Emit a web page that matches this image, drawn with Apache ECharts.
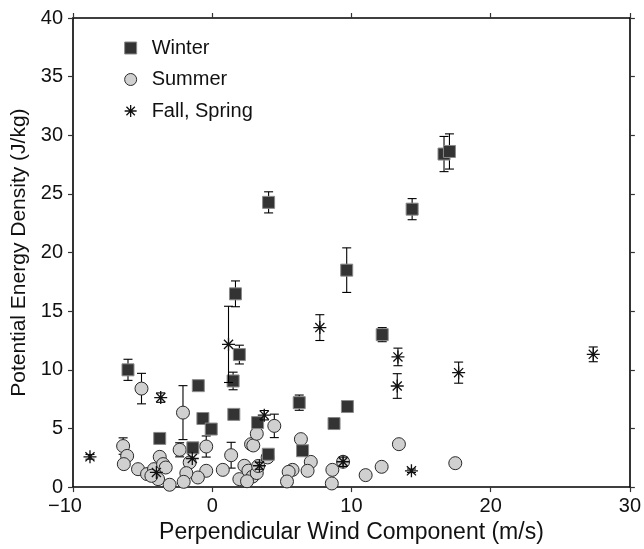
<!DOCTYPE html>
<html><head><meta charset="utf-8">
<script src="https://cdn.jsdelivr.net/npm/echarts@6/dist/echarts.min.js"></script>
<style>html,body{margin:0;padding:0;background:#fff}#c{width:644px;height:549px}</style>
</head><body><div id="c"></div>
<script>
// [x (m/s), y (J/kg), error]
const winter = [
  [-6.05, 10.0, 0.9], [-3.77, 4.15, 0], [-1.0, 8.65, 0.3], [-0.67, 5.85, 0], [-0.07, 4.95, 0],
  [-1.39, 3.35, 0], [1.95, 11.3, 0.8], [1.5, 9.05, 0.75], [1.55, 6.2, 0.3], [3.26, 5.5, 0],
  [4.03, 2.8, 0.4], [6.25, 7.2, 0.65], [6.49, 3.1, 0], [8.75, 5.42, 0.5], [9.71, 6.87, 0.15],
  [12.21, 13.0, 0.6], [4.05, 24.28, 0.9], [1.67, 16.48, 1.1], [9.66, 18.5, 1.9],
  [14.36, 23.7, 0.9], [16.65, 28.4, 1.5], [17.04, 28.62, 1.5]
];
const summer = [
  [-5.08, 8.4, 1.3], [-6.4, 3.5, 0.7], [-6.11, 2.66, 0], [-6.35, 1.96, 0], [-5.33, 1.53, 0],
  [-4.68, 1.11, 0], [-4.18, 1.53, 0], [-3.77, 2.58, 0], [-3.53, 1.96, 0], [-3.34, 1.67, 0],
  [-3.89, 0.68, 0], [-3.06, 0.2, 0], [-4.37, 0.96, 0], [-2.1, 6.35, 2.3], [-2.34, 3.18, 0.6],
  [-0.43, 3.46, 0.9], [-0.43, 1.39, 0], [-1.03, 0.82, 0], [-1.62, 2.1, 0], [-1.86, 1.19, 0],
  [-2.05, 0.45, 0], [0.76, 1.47, 0], [1.36, 2.72, 1.1], [1.95, 0.68, 0], [2.31, 1.82, 0],
  [2.6, 1.4, 0], [2.9, 0.9, 0], [2.5, 0.5, 0], [3.2, 1.2, 0], [3.3, 1.8, 0],
  [2.79, 3.66, 0], [2.95, 3.55, 0], [3.2, 4.55, 0.4], [4.46, 5.22, 1.0], [3.98, 2.53, 0],
  [6.37, 4.09, 0], [7.08, 2.15, 0], [6.85, 1.39, 0], [5.77, 1.47, 0], [5.49, 1.3, 0],
  [5.37, 0.48, 0], [8.63, 1.47, 0], [8.59, 0.31, 0], [9.4, 2.16, 0], [11.02, 1.02, 0],
  [12.17, 1.73, 0], [13.41, 3.66, 0], [17.46, 2.04, 0]
];
const fallSpring = [
  [-8.78, 2.58, 0.2], [-3.7, 7.63, 0.4], [1.17, 12.17, 3.25], [7.73, 13.6, 1.1],
  [13.34, 11.1, 0.75], [13.29, 8.62, 1.05], [17.7, 9.76, 0.9], [27.37, 11.32, 0.63],
  [14.31, 1.39, 0.15], [3.74, 6.13, 0.4], [9.4, 2.16, 0.4], [3.39, 1.82, 0.3],
  [-4.01, 1.25, 0], [-1.43, 2.44, 0]
];
const xTicks = [-10, 0, 10, 20, 30];
const yTicks = [0, 5, 10, 15, 20, 25, 30, 35, 40];
const seriesNames = ['Winter', 'Summer', 'Fall, Spring'];

const FONT = 'Liberation Sans, Arial, Helvetica, sans-serif';
const starPath = 'path://M0,-10L0,10M-10,0L10,0M-7,-7L7,7M-7,7L7,-7';

const styles = {
  'Winter': { color: '#333333', borderColor: '#8a8a8a', borderWidth: 1, opacity: 1 },
  'Summer': { color: '#d0d0d0', borderColor: '#2a2a2a', borderWidth: 1, opacity: 1 },
  'Fall, Spring': { color: '#000', borderColor: '#111', borderWidth: 1.3, opacity: 1 }
};

function errBars(name, data, z) {
  return {
    type: 'custom', name: name + ' error', z: z, silent: true,
    data: data,
    renderItem: function (params, api) {
      const x = api.value(0), y = api.value(1), e = api.value(2);
      if (!e) return null;
      const top = api.coord([x, y + e]);
      const bot = api.coord([x, y - e]);
      const w = 4.5;
      const st = { stroke: '#000', lineWidth: 1.1 };
      return { type: 'group', children: [
        { type: 'line', shape: { x1: top[0], y1: top[1], x2: bot[0], y2: bot[1] }, style: st },
        { type: 'line', shape: { x1: top[0] - w, y1: top[1], x2: top[0] + w, y2: top[1] }, style: st },
        { type: 'line', shape: { x1: bot[0] - w, y1: bot[1], x2: bot[0] + w, y2: bot[1] }, style: st }
      ]};
    },
    encode: { x: 0, y: 1 }
  };
}

const chart = echarts.init(document.getElementById('c'), null, { renderer: 'canvas' });
function axisCommon() {
  return {
    axisLine: { onZero: false, lineStyle: { color: '#000', width: 1.6 } },
    axisTick: { length: 5, lineStyle: { color: '#333', width: 1.2 } },
    splitLine: { show: false }
  };
}
chart.setOption({
  animation: false,
  backgroundColor: '#fff',
  textStyle: { fontFamily: FONT },
  grid: { left: 73, right: 12, top: 18, bottom: 61 },
  legend: {
    orient: 'vertical', left: 119, top: 33, itemGap: 11.5,
    itemWidth: 12, itemHeight: 12,
    data: [
      { name: 'Winter', icon: 'rect', itemStyle: styles['Winter'] },
      { name: 'Summer', icon: 'circle', itemStyle: styles['Summer'] },
      { name: 'Fall, Spring', icon: starPath, itemStyle: styles['Fall, Spring'] }
    ],
    textStyle: { fontSize: 20, color: '#111', fontFamily: FONT, padding: [0, 0, 0, 10] }
  },
  xAxis: [
    Object.assign(axisCommon(), {
      type: 'value', min: -10, max: 30, interval: 10, position: 'bottom',
      name: 'Perpendicular Wind Component (m/s)', nameLocation: 'middle', nameGap: 21,
      nameTextStyle: { fontSize: 23, color: '#111', fontFamily: FONT },
      axisLabel: { fontSize: 20, color: '#111', margin: 9, fontFamily: FONT,
        rich: { n: { fontSize: 20, color: '#111', fontFamily: FONT, padding: [0, 16, 0, 0] } },
        formatter: v => xTicks.includes(v) ? (v < 0 ? '{n|\u2212' + Math.abs(v) + '}' : String(v)) : '' }
    }),
    Object.assign(axisCommon(), {
      type: 'value', min: -10, max: 30, interval: 10, position: 'top',
      axisLabel: { show: false }
    })
  ],
  yAxis: [
    Object.assign(axisCommon(), {
      type: 'value', min: 0, max: 40, interval: 5, position: 'left',
      name: 'Potential Energy Density (J/kg)', nameLocation: 'middle', nameGap: 43,
      nameTextStyle: { fontSize: 21, color: '#111', fontFamily: FONT },
      axisLabel: { fontSize: 20, color: '#111', margin: 10, fontFamily: FONT,
        formatter: v => yTicks.includes(v) ? String(v) : '' }
    }),
    Object.assign(axisCommon(), {
      type: 'value', min: 0, max: 40, interval: 5, position: 'right',
      axisLabel: { show: false }
    })
  ],
  series: [
    errBars('Summer', summer, 2),
    {
      type: 'scatter', name: 'Summer', data: summer.map(d => [d[0], d[1]]), z: 3,
      symbol: 'circle', symbolSize: 13, itemStyle: styles['Summer']
    },
    errBars('Winter', winter, 4),
    {
      type: 'scatter', name: 'Winter', data: winter.map(d => [d[0], d[1]]), z: 5,
      symbol: 'rect', symbolSize: 12, itemStyle: styles['Winter']
    },
    errBars('Fall, Spring', fallSpring, 6),
    {
      type: 'scatter', name: 'Fall, Spring', data: fallSpring.map(d => [d[0], d[1]]), z: 7,
      symbol: starPath, symbolSize: 13, itemStyle: styles['Fall, Spring']
    }
  ]
});
</script></body></html>
